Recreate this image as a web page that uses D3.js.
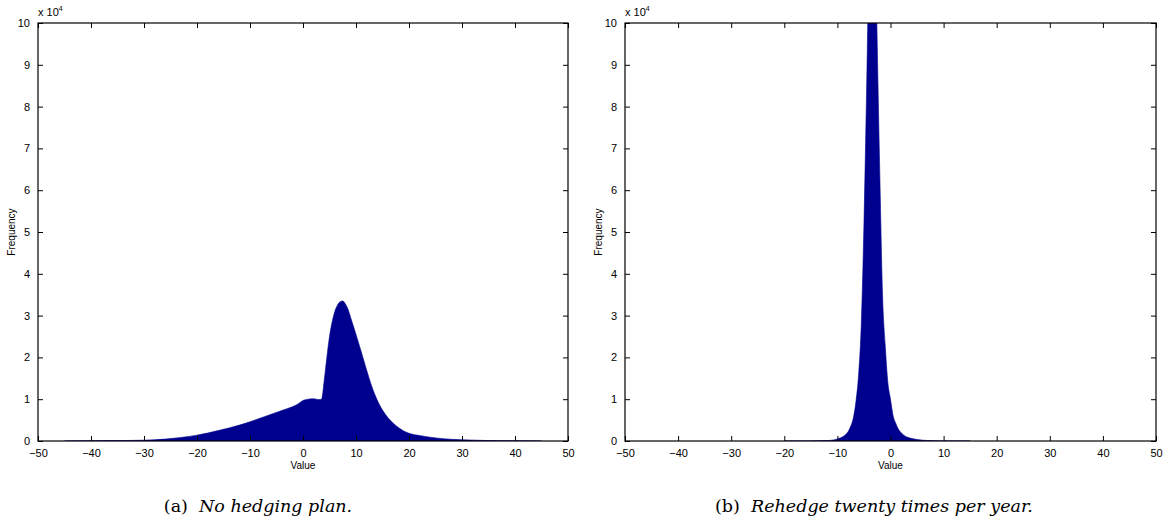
<!DOCTYPE html>
<html>
<head>
<meta charset="utf-8">
<script src="https://cdn.jsdelivr.net/npm/d3@7"></script>
<style>
  body { margin: 0; background: #fff; }
  svg { display: block; }
</style>
</head>
<body>
<svg width="1167" height="520"></svg>
<script>
// bin centres (value) and frequency (in units of 10^4)
const noHedgeX = [-45, -40, -35, -30, -28, -26, -24, -22, -20, -18, -16, -14, -12, -10, -8, -6, -4, -2, -1, 0, 1, 2, 3, 3.5, 4, 4.5, 5, 5.5, 6, 6.5, 7, 7.5, 8, 8.5, 9, 10, 11, 12, 13, 14, 15, 16, 17, 18, 19, 20, 22, 24, 26, 28, 30, 35, 40, 45];
const noHedgeY = [0, 0.005, 0.01, 0.02, 0.03, 0.045, 0.07, 0.1, 0.14, 0.19, 0.25, 0.31, 0.38, 0.46, 0.55, 0.64, 0.73, 0.82, 0.88, 0.97, 1.0, 1.01, 0.99, 1.0, 1.45, 2.0, 2.5, 2.85, 3.1, 3.25, 3.33, 3.35, 3.28, 3.15, 2.95, 2.55, 2.13, 1.7, 1.3, 0.98, 0.74, 0.56, 0.43, 0.32, 0.24, 0.185, 0.13, 0.09, 0.06, 0.04, 0.03, 0.01, 0.004, 0];

const rehedgeX = [-20, -15, -12, -11, -10, -9, -8.5, -8, -7.5, -7, -6.5, -6, -5.5, -5, -4.5, -4, -3.5, -3, -2.5, -2, -1.5, -1, -0.5, 0, 0.5, 1, 1.5, 2, 3, 4, 5, 6, 8, 10, 15];
const rehedgeY = [0, 0.003, 0.01, 0.02, 0.05, 0.1, 0.15, 0.22, 0.35, 0.55, 0.95, 1.6, 2.8, 5.2, 8.4, 12, 14, 13, 9.5, 6.3, 3.5, 2.3, 1.4, 1.0, 0.6, 0.42, 0.28, 0.2, 0.1, 0.06, 0.035, 0.02, 0.008, 0.003, 0];

const xTicks = [-50, -40, -30, -20, -10, 0, 10, 20, 30, 40, 50];
const yTicks = [0, 1, 2, 3, 4, 5, 6, 7, 8, 9, 10];

const panels = [
  { id: "a", x0: 38, x1: 568, xs: noHedgeX, ys: noHedgeY, caption: "No hedging plan.", capX: 258 },
  { id: "b", x0: 625, x1: 1156, xs: rehedgeX, ys: rehedgeY, caption: "Rehedge twenty times per year.", capX: 874 }
];

const svg = d3.select("svg");
const plotTop = 23, plotBottom = 441;
const barColor = "#00008f";
const sans = "Liberation Sans, Arial, Helvetica, sans-serif";

panels.forEach((p) => {
  const x = d3.scaleLinear().domain([-50, 50]).range([p.x0, p.x1]);
  const y = d3.scaleLinear().domain([0, 10]).range([plotBottom, plotTop]);
  const g = svg.append("g");

  // clip to plot box
  g.append("clipPath").attr("id", "clip-" + p.id)
    .append("rect")
    .attr("x", p.x0).attr("y", plotTop)
    .attr("width", p.x1 - p.x0).attr("height", plotBottom - plotTop);

  const pts = p.xs.map((v, i) => [v, p.ys[i]]);
  const area = d3.area()
    .x((d) => x(d[0]))
    .y0(y(0))
    .y1((d) => y(d[1]))
    .curve(d3.curveMonotoneX);

  g.append("path")
    .datum(pts)
    .attr("clip-path", `url(#clip-${p.id})`)
    .attr("d", area)
    .attr("fill", barColor)
    .attr("stroke", barColor)
    .attr("stroke-width", 0.6);

  // axes, ticks pointing inward
  const bAxis = d3.axisBottom(x).tickValues(xTicks).tickSizeInner(-5).tickSizeOuter(0).tickPadding(8)
    .tickFormat((d) => d < 0 ? "\u2212" + Math.abs(d) : d);
  const tAxis = d3.axisTop(x).tickValues(xTicks).tickSizeInner(-5).tickSizeOuter(0).tickFormat("");
  const lAxis = d3.axisLeft(y).tickValues(yTicks).tickSizeInner(-5).tickSizeOuter(0).tickPadding(8);
  const rAxis = d3.axisRight(y).tickValues(yTicks).tickSizeInner(-5).tickSizeOuter(0).tickFormat("");

  g.append("g").attr("transform", `translate(0,${plotBottom})`).call(bAxis);
  g.append("g").attr("transform", `translate(0,${plotTop})`).call(tAxis);
  g.append("g").attr("transform", `translate(${p.x0},0)`).call(lAxis);
  g.append("g").attr("transform", `translate(${p.x1},0)`).call(rAxis);
  g.selectAll(".domain").remove();
  g.selectAll(".tick line").attr("stroke", "#000");
  g.selectAll(".tick text")
    .attr("font-family", sans)
    .attr("font-size", 11)
    .attr("fill", "#000");

  g.append("rect")
    .attr("x", p.x0).attr("y", plotTop)
    .attr("width", p.x1 - p.x0).attr("height", plotBottom - plotTop)
    .attr("fill", "none").attr("stroke", "#000").attr("stroke-width", 1.2);

  // exponent label
  const ex = g.append("text")
    .attr("x", p.x0).attr("y", plotTop - 7)
    .attr("font-family", sans)
    .attr("font-size", 11);
  ex.append("tspan").text("x 10");
  ex.append("tspan").attr("font-size", 7).attr("dy", -5).text("4");

  // axis labels
  g.append("text")
    .attr("x", (p.x0 + p.x1) / 2).attr("y", 469)
    .attr("text-anchor", "middle")
    .attr("font-family", sans)
    .attr("font-size", 10)
    .text("Value");

  g.append("text")
    .attr("transform", `translate(${p.x0 - 23},${(plotTop + plotBottom) / 2}) rotate(-90)`)
    .attr("text-anchor", "middle")
    .attr("font-family", sans)
    .attr("font-size", 10)
    .text("Frequency");

  // caption
  const cap = g.append("text")
    .attr("x", p.capX).attr("y", 512)
    .attr("text-anchor", "middle")
    .attr("font-family", "DejaVu Serif, serif")
    .attr("font-size", 17.5);
  cap.append("tspan").text(`(${p.id})\u00a0\u00a0`);
  cap.append("tspan").attr("font-style", "italic").text(p.caption);
});
</script>
</body>
</html>
